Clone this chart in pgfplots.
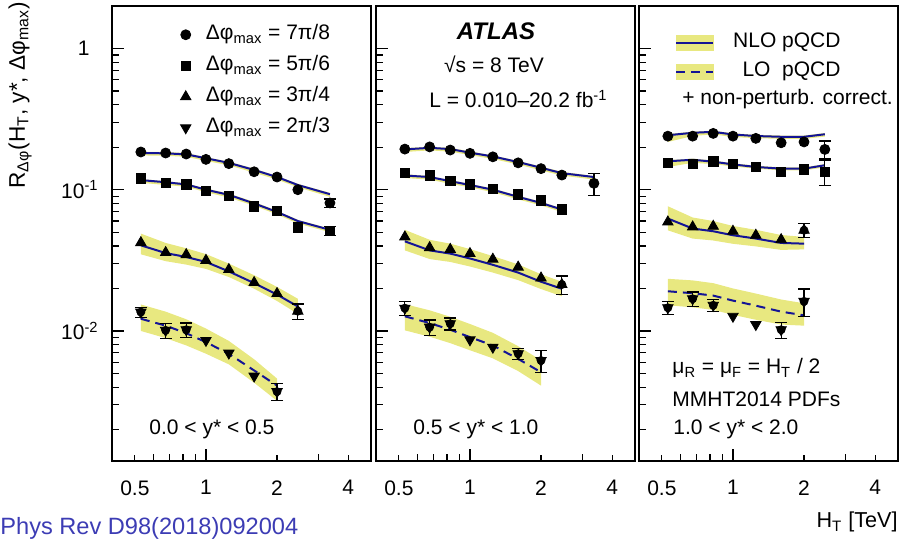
\documentclass[border=0pt]{standalone}
\usepackage{fontspec}
\setmainfont{Liberation Sans}
\usepackage{pgfplots}
\usepackage{pgfplotstable}
\pgfplotsset{compat=1.18}

\definecolor{bandc}{RGB}{232,232,128}
\definecolor{navyc}{RGB}{20,20,150}
\definecolor{refc}{RGB}{60,60,180}
\newcommand\fs{\fontsize{10.5}{12.6}\selectfont}

\pgfplotsset{
  nloline/.style={navyc, line width=1pt, forget plot},
  loline/.style={navyc, line width=1pt, dash pattern=on 4.5pt off 3pt, forget plot},
  ebar/.style={black, only marks, mark=none, forget plot,
    error bars/y dir=both, error bars/y explicit,
    error bars/error bar style={line width=0.6pt},
    error bars/error mark options={rotate=90, mark size=3pt, line width=0.6pt}},
  m1/.style={black, only marks, mark=*, mark size=2.5pt},
  m2/.style={black, only marks, mark=square*, mark size=2.35pt},
  m3/.style={black, only marks, mark=triangle*, mark size=3pt},
  m4/.style={black, only marks, mark=triangle*, mark size=3pt, mark options={rotate=180}},
}

% band polygon: upper edge forward, lower edge back
\newcommand\band[1]{\addplot[fill=bandc, draw=none, forget plot] table[row sep=\\]{x y\\ #1};}
% #1 table, #2 line style, #3 mark style
\newcommand\series[3]{%
  \addplot[#2] table[x=x,y=t]{#1};
  \addplot[#3] table[x=x,y=d]{#1};
}

% panel 1: 0.0 < y* < 0.5
\pgfplotstableread{
x d t
0.53 0.185 0.182
0.675 0.182 0.181
0.825 0.179 0.178
1.0 0.164 0.167
1.25 0.153 0.155
1.6 0.134 0.138
2.0 0.123 0.123
2.45 0.100 0.108
3.35 0.0806 0.093
}\pAa
\pgfplotstableread{
x d t
0.53 0.120 0.117
0.675 0.112 0.113
0.825 0.109 0.109
1.0 0.098 0.100
1.25 0.090 0.092
1.6 0.0764 0.080
2.0 0.0707 0.0696
2.45 0.054 0.060
3.35 0.051 0.052
}\pAb
\pgfplotstableread{
x d t
0.53 0.0422 0.0404
0.675 0.0359 0.0356
0.825 0.0347 0.0334
1.0 0.0316 0.0308
1.25 0.0272 0.0264
1.6 0.0220 0.0218
2.0 0.0184 0.0181
2.45 0.0138 0.0149
}\pAc
\pgfplotstableread{
x d t
0.53 0.0136 0.0122
0.675 0.0101 0.0109
0.825 0.0102 0.00964
1.0 0.00857 0.00833
1.25 0.00697 0.00689
1.6 0.00479 0.00525
2.0 0.00372 0.0041
}\pAd

% panel 2: 0.5 < y* < 1.0
\pgfplotstableread{
x d t
0.53 0.194 0.193
0.675 0.201 0.198
0.825 0.191 0.194
1.0 0.181 0.183
1.25 0.171 0.172
1.6 0.155 0.157
2.0 0.141 0.143
2.45 0.127 0.131
3.35 0.111 0.123
}\pBa
\pgfplotstableread{
x d t
0.53 0.132 0.126
0.675 0.126 0.123
0.825 0.115 0.115
1.0 0.109 0.108
1.25 0.101 0.100
1.6 0.0925 0.089
2.0 0.0843 0.0806
2.45 0.0724 0.0724
}\pBb
\pgfplotstableread{
x d t
0.53 0.0463 0.0431
0.675 0.0389 0.0372
0.825 0.0378 0.0353
1.0 0.0353 0.0326
1.25 0.0322 0.0294
1.6 0.0283 0.0259
2.0 0.0237 0.0223
2.45 0.0213 0.0199
}\pBc
\pgfplotstableread{
x d t
0.53 0.0145 0.0127
0.675 0.01064 0.01137
0.825 0.01125 0.0102
1.0 0.00866 0.00904
1.25 0.00767 0.00789
1.6 0.0069 0.00634
2.0 0.00618 0.0051
}\pBd

% panel 3: 1.0 < y* < 2.0
\pgfplotstableread{
x d t
0.53 0.2395 0.243
0.675 0.2395 0.253
0.825 0.2505 0.257
1.0 0.2395 0.246
1.25 0.231 0.240
1.6 0.215 0.237
2.0 0.218 0.237
2.45 0.193 0.247
}\pCa
\pgfplotstableread{
x d t
0.53 0.155 0.159
0.675 0.152 0.163
0.825 0.159 0.158
1.0 0.152 0.151
1.25 0.145 0.145
1.6 0.134 0.141
2.0 0.139 0.141
2.45 0.134 0.149
}\pCb
\pgfplotstableread{
x d t
0.53 0.0591 0.0625
0.675 0.0545 0.0531
0.825 0.0551 0.0508
1.0 0.0508 0.0476
1.25 0.0476 0.0451
1.6 0.0443 0.0420
2.0 0.0516 0.0415
}\pCc
\pgfplotstableread{
x d t
0.53 0.0146 0.0191
0.675 0.0169 0.0185
0.825 0.0152 0.0178
1.0 0.0127 0.0164
1.25 0.0111 0.0151
1.6 0.0102 0.0137
2.0 0.0162 0.0129
}\pCd

\begin{document}
\fs
\begin{tikzpicture}
\path[use as bounding box] (-56pt,-39pt) rectangle (394pt,230.5pt);

% ---- panel 1
\begin{axis}[at={(0pt,0pt)}, anchor=south west,
  xmode=log, ymode=log, scale only axis, width=129.5pt, height=227.5pt,
  xmin=0.4, xmax=5, ymin=0.0012, ymax=2,
  axis line style={line width=0.8pt},
  xtick={1}, xticklabels={1}, minor xtick={0.6,0.7,0.8,0.9,3},
  extra x ticks={0.5,2,4}, extra x tick labels={0.5,2,4},
  extra x tick style={major tick length=3pt},
  ytick={0.01,0.1,1},
  minor ytick={0.002,0.003,0.004,0.005,0.006,0.007,0.008,0.009,0.02,0.03,0.04,0.05,0.06,0.07,0.08,0.09,0.2,0.3,0.4,0.5,0.6,0.7,0.8,0.9,2},
  major tick length=6pt, minor tick length=3.5pt,
  xtick pos=bottom, ytick pos=left, tick align=inside,
  tick style={black, line width=0.6pt}, tick label style={font=\fs},
  xticklabel style={yshift=-6pt}, yticklabel style={xshift=-3pt},
  yticklabels={10\textsuperscript{-2},10\textsuperscript{-1},1\rule{4.5pt}{0pt}},
  legend cell align=left,
  legend style={draw=none, fill=none, font=\fs, at={(rel axis cs:0.24,0.975)}, anchor=north west,
    row sep=2.5pt, nodes={inner sep=1pt, text height=8pt, text depth=3pt},
    /tikz/every odd column/.append style={column sep=6.5pt}},
]
\band{0.53 0.186\\0.675 0.185\\0.825 0.182\\1.0 0.170\\1.25 0.158\\1.6 0.141\\2.0 0.125\\2.45 0.110\\3.35 0.095\\3.35 0.089\\2.45 0.104\\2.0 0.118\\1.6 0.132\\1.25 0.149\\1.0 0.160\\0.825 0.171\\0.675 0.174\\0.53 0.175\\}
\band{0.53 0.119\\0.675 0.115\\0.825 0.111\\1.0 0.102\\1.25 0.094\\1.6 0.082\\2.0 0.0710\\2.45 0.0612\\3.35 0.053\\3.35 0.050\\2.45 0.0576\\2.0 0.0668\\1.6 0.077\\1.25 0.088\\1.0 0.096\\0.825 0.105\\0.675 0.108\\0.53 0.112\\}
\band{0.53 0.0489\\0.675 0.0420\\0.825 0.0385\\1.0 0.0350\\1.25 0.0300\\1.6 0.0248\\2.0 0.0205\\2.45 0.0169\\2.45 0.0132\\2.0 0.0163\\1.6 0.0199\\1.25 0.0241\\1.0 0.0275\\0.825 0.0295\\0.675 0.0312\\0.53 0.0349\\}
\band{0.53 0.0154\\0.675 0.0137\\0.825 0.0121\\1.0 0.0104\\1.25 0.0085\\1.6 0.0063\\2.0 0.0046\\2.0 0.0032\\1.6 0.0043\\1.25 0.0058\\1.0 0.0069\\0.825 0.0079\\0.675 0.0089\\0.53 0.0100\\}
\series{\pAa}{nloline}{m1}
\series{\pAb}{nloline}{m2}
\series{\pAc}{nloline}{m3}
\series{\pAd}{loline}{m4}
\addplot[ebar] table[x=x, y=y, y error=e, row sep=\\]{
x y e\\ 3.35 0.0806 0.0055\\ 3.35 0.051 0.0036\\ 2.45 0.0138 0.0017\\
0.53 0.0136 0.0011\\ 0.675 0.0101 0.0012\\ 0.825 0.0102 0.0012\\ 2.0 0.00372 0.0005\\
};
\legend{Δφ\textsubscript{max} = 7π/8, Δφ\textsubscript{max} = 5π/6,
        Δφ\textsubscript{max} = 3π/4, Δφ\textsubscript{max} = 2π/3}
\node[anchor=base west, xshift=15pt, yshift=13pt] at (rel axis cs:0,0) {0.0 < y* < 0.5};
\end{axis}

% ---- panel 2
\begin{axis}[at={(132pt,0pt)}, anchor=south west,
  xmode=log, ymode=log, scale only axis, width=129.5pt, height=227.5pt,
  xmin=0.4, xmax=5, ymin=0.0012, ymax=2,
  axis line style={line width=0.8pt},
  xtick={1}, xticklabels={1}, minor xtick={0.6,0.7,0.8,0.9,3},
  extra x ticks={0.5,2,4}, extra x tick labels={0.5,2,4},
  extra x tick style={major tick length=3pt},
  ytick={0.01,0.1,1},
  minor ytick={0.002,0.003,0.004,0.005,0.006,0.007,0.008,0.009,0.02,0.03,0.04,0.05,0.06,0.07,0.08,0.09,0.2,0.3,0.4,0.5,0.6,0.7,0.8,0.9,2},
  major tick length=6pt, minor tick length=3.5pt,
  xtick pos=bottom, ytick pos=left, tick align=inside,
  tick style={black, line width=0.6pt}, tick label style={font=\fs},
  xticklabel style={yshift=-6pt}, yticklabels={},
]
\band{0.53 0.197\\0.675 0.202\\0.825 0.198\\1.0 0.187\\1.25 0.175\\1.6 0.160\\2.0 0.146\\2.45 0.134\\3.35 0.125\\3.35 0.118\\2.45 0.126\\2.0 0.137\\1.6 0.151\\1.25 0.165\\1.0 0.176\\0.825 0.186\\0.675 0.190\\0.53 0.185\\}
\band{0.53 0.129\\0.675 0.125\\0.825 0.117\\1.0 0.110\\1.25 0.102\\1.6 0.0908\\2.0 0.0822\\2.45 0.0738\\2.45 0.0695\\2.0 0.0774\\1.6 0.0854\\1.25 0.096\\1.0 0.104\\0.825 0.110\\0.675 0.118\\0.53 0.121\\}
\band{0.53 0.0520\\0.675 0.0442\\0.825 0.0415\\1.0 0.0380\\1.25 0.0339\\1.6 0.0296\\2.0 0.0252\\2.45 0.0223\\2.45 0.0176\\2.0 0.0198\\1.6 0.0229\\1.25 0.0259\\1.0 0.0286\\0.825 0.0308\\0.675 0.0323\\0.53 0.0372\\}
\band{0.53 0.0155\\0.675 0.0140\\0.825 0.0126\\1.0 0.0112\\1.25 0.0097\\1.6 0.0078\\2.0 0.0062\\2.0 0.0041\\1.6 0.0052\\1.25 0.0064\\1.0 0.0073\\0.825 0.0082\\0.675 0.0091\\0.53 0.0101\\}
\series{\pBa}{nloline}{m1}
\series{\pBb}{nloline}{m2}
\series{\pBc}{nloline}{m3}
\series{\pBd}{loline}{m4}
\addplot[ebar] table[x=x, y=y, y error=e, row sep=\\]{
x y e\\ 3.35 0.111 0.02\\ 2.45 0.0213 0.0032\\
0.53 0.0145 0.0017\\ 0.675 0.01064 0.0013\\ 0.825 0.01125 0.0011\\ 1.6 0.0069 0.0006\\ 2.0 0.00618 0.0011\\
};
\node[anchor=base, xshift=60pt, yshift=210.5pt, font=\fontsize{12}{14}\selectfont] at (rel axis cs:0,0) {\textbf{\textit{ATLAS}}};
\node[anchor=base, xshift=59pt, yshift=194.2pt] at (rel axis cs:0,0) {√s = 8 TeV};
\node[anchor=base west, xshift=23pt, yshift=176.5pt] at (rel axis cs:0,0) {L = 0.010–20.2 fb\textsuperscript{-1}};
\node[anchor=base west, xshift=15pt, yshift=13pt] at (rel axis cs:0,0) {0.5 < y* < 1.0};
\end{axis}

% ---- panel 3
\begin{axis}[at={(263.5pt,0pt)}, anchor=south west,
  xmode=log, ymode=log, scale only axis, width=129.5pt, height=227.5pt,
  xmin=0.4, xmax=5, ymin=0.0012, ymax=2,
  axis line style={line width=0.8pt},
  xtick={1}, xticklabels={1}, minor xtick={0.6,0.7,0.8,0.9,3},
  extra x ticks={0.5,2,4}, extra x tick labels={0.5,2,4},
  extra x tick style={major tick length=3pt},
  ytick={0.01,0.1,1},
  minor ytick={0.002,0.003,0.004,0.005,0.006,0.007,0.008,0.009,0.02,0.03,0.04,0.05,0.06,0.07,0.08,0.09,0.2,0.3,0.4,0.5,0.6,0.7,0.8,0.9,2},
  major tick length=6pt, minor tick length=3.5pt,
  xtick pos=bottom, ytick pos=left, tick align=inside,
  tick style={black, line width=0.6pt}, tick label style={font=\fs},
  xticklabel style={yshift=-6pt}, yticklabels={},
  legend cell align=right,
  legend style={draw=none, fill=none, font=\fs, at={(rel axis cs:0.115,0.958)}, anchor=north west,
    row sep=1.5pt, nodes={inner sep=1pt, text height=8pt, text depth=3pt},
    /tikz/every odd column/.append style={column sep=8.5pt}},
]
\band{0.53 0.248\\0.675 0.258\\0.825 0.262\\1.0 0.251\\1.25 0.245\\1.6 0.242\\2.0 0.242\\2.45 0.252\\2.45 0.238\\2.0 0.229\\1.6 0.229\\1.25 0.232\\1.0 0.236\\0.825 0.247\\0.675 0.240\\0.53 0.218\\}
\band{0.53 0.162\\0.675 0.166\\0.825 0.161\\1.0 0.154\\1.25 0.148\\1.6 0.144\\2.0 0.144\\2.45 0.152\\2.45 0.144\\2.0 0.137\\1.6 0.137\\1.25 0.141\\1.0 0.146\\0.825 0.152\\0.675 0.155\\0.53 0.145\\}
\band{0.53 0.0764\\0.675 0.0636\\0.825 0.0600\\1.0 0.0554\\1.25 0.0520\\1.6 0.0478\\2.0 0.0463\\2.0 0.0378\\1.6 0.0375\\1.25 0.0397\\1.0 0.0414\\0.825 0.0437\\0.675 0.0451\\0.53 0.0516\\}
\band{0.53 0.0234\\0.675 0.0228\\0.825 0.0218\\1.0 0.0200\\1.25 0.0184\\1.6 0.0167\\2.0 0.0157\\2.0 0.0109\\1.6 0.0111\\1.25 0.0120\\1.0 0.0130\\0.825 0.0141\\0.675 0.0147\\0.53 0.0152\\}
\series{\pCa}{nloline}{m1,forget plot}
\series{\pCb}{nloline}{m2,forget plot}
\series{\pCc}{nloline}{m3,forget plot}
\series{\pCd}{loline}{m4,forget plot}
\addplot[ebar] table[x=x, y=y, y error=e, row sep=\\]{
x y e\\ 2.45 0.193 0.028\\ 2.45 0.134 0.027\\ 2.0 0.0516 0.006\\
0.53 0.0146 0.0015\\ 0.675 0.0169 0.002\\ 0.825 0.0152 0.0014\\ 1.6 0.0102 0.0013\\ 2.0 0.0162 0.0036\\
};
\addlegendimage{legend image code/.code={
  \fill[bandc] (0pt,-3.75pt) rectangle (18.5pt,3.75pt);
  \draw[navyc, line width=1pt] (0pt,0pt) -- (18.5pt,0pt);}}
\addlegendentry{NLO pQCD}
\addlegendimage{legend image code/.code={
  \fill[bandc] (0pt,-3.75pt) rectangle (18.5pt,3.75pt);
  \draw[navyc, line width=1pt, dash pattern=on 4.5pt off 3pt] (0pt,0pt) -- (18.5pt,0pt);}}
\addlegendentry{LO\ \ pQCD}
\node[anchor=base west, xshift=18pt, yshift=178pt] at (rel axis cs:0,0) {+ non-perturb. correct.};
\node[anchor=base west, xshift=13pt, yshift=43.5pt] at (rel axis cs:0,0) {μ\textsubscript{R} = μ\textsubscript{F} = H\textsubscript{T} / 2};
\node[anchor=base west, xshift=13pt, yshift=27pt] at (rel axis cs:0,0) {MMHT2014 PDFs};
\node[anchor=base west, xshift=13.5pt, yshift=13pt] at (rel axis cs:0,0) {1.0 < y* < 2.0};
\end{axis}

\node[rotate=90, anchor=base east, inner sep=0pt, font=\fontsize{11.3}{13}\selectfont] at (-43.5pt,229.5pt)
  {R\textsubscript{Δφ}(H\textsubscript{T}, y*, Δφ\textsubscript{max})};
\node[anchor=base east, inner sep=0pt, font=\fontsize{10.8}{13}\selectfont] at (393pt,-33.5pt) {H\textsubscript{T} [TeV]};
\node[anchor=base west, inner sep=0pt, text=refc, font=\fontsize{11.8}{14}\selectfont] at (-56pt,-37pt) {Phys Rev D98(2018)092004};
\end{tikzpicture}
\end{document}
